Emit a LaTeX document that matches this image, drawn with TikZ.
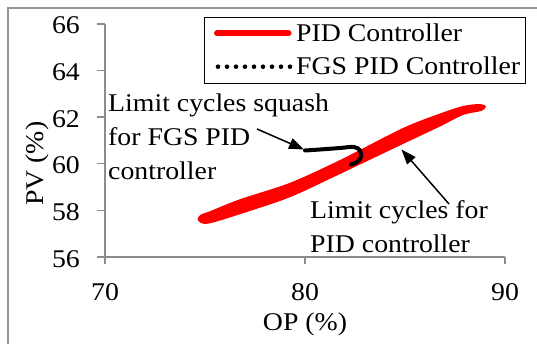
\documentclass[tikz,border=0pt]{standalone}
\usepackage{fontspec}
\setmainfont{Liberation Serif}[FakeStretch=1.09]
\usetikzlibrary{arrows.meta}
\begin{document}
\begin{tikzpicture}[x=1pt,y=-1pt,
  txt/.style={font=\fontsize{25.5}{33}\selectfont, inner sep=0pt, text=black},
  axisline/.style={draw=black!45, line width=1.4pt},
  frameline/.style={draw=black!42, line width=2pt},
  pidline/.style={draw=red, line cap=round, line join=round},
  fgsline/.style={draw=black, line cap=round, line join=round},
  pointer/.style={draw=black, line width=1.5pt, -{Triangle[length=15pt,width=11pt]}}]
\useasboundingbox (0,0) rectangle (537,344);
% outer frame
\draw[frameline] (8,344) -- (8,8) -- (537,8);
% axes
\coordinate (o) at (105,257);
\coordinate (ytop) at (105,24);
\coordinate (xend) at (505,257);
\draw[axisline] (ytop) -- (o) -- (xend);
% y ticks and labels
\foreach \v/\y in {66/24,64/70.6,62/117.2,60/163.8,58/210.4,56/257}{
  \draw[axisline] (97,\y) -- (105,\y);
  \node[txt, anchor=base east] (yl\v) at (80,\y+10) {\v};
}
% x ticks and labels
\foreach \v/\x in {70/105,80/305,90/505}{
  \draw[axisline] (\x,257) -- (\x,264);
  \node[txt, anchor=base] (xl\v) at (\x,300) {\v};
}
\node[txt, anchor=base] (xlabel) at (305,330) {OP (\%)};
\node[txt, anchor=base, rotate=90] (ylabel) at (43,163.8) {PV (\%)};
% PID limit cycle (filled band)
\fill[red] plot[smooth cycle, tension=0.5] coordinates
  {(197.5,219) (201,214.5) (210,211.2) (240,199.2) (290,182.8) (340,160) (403,128)
   (440,113.5) (463,106) (480,104) (486,106.5) (481,111) (463,115) (440,126.5)
   (403,144) (340,174) (290,197.2) (240,214.2) (210,223.3) (201,223)};
% FGS PID limit cycle
\coordinate (f0) at (305,150.5);
\draw[fgsline, line width=4pt] plot[smooth, tension=0.6] coordinates
  {(f0) (320,149.5) (340,148) (354,147) (360,150.5) (361,157) (357,162) (351,164.5)};
% legend
\node[draw=black, line width=1pt, minimum width=321pt, minimum height=66pt,
  inner sep=0pt, anchor=north west] (legend) at (204,17.3) {};
\coordinate (l1a) at (217,33.3);
\coordinate (l1b) at (288.5,33.3);
\coordinate (l2a) at (218,66.7);
\coordinate (l2b) at (290,66.7);
\draw[pidline, line width=6pt] (l1a) -- (l1b);
\draw[fgsline, line width=4.6pt, dash pattern=on 0pt off 9pt] (l2a) -- (l2b);
\node[txt, anchor=base west] (leg1) at (296,41.7) {PID Controller};
\node[txt, anchor=base west] (leg2) at (296,75) {FGS PID Controller};
% annotations
\node[txt, anchor=base west] (sq1) at (108,112) {Limit cycles squash};
\node[txt, anchor=base west] (sq2) at (108,146) {for FGS PID};
\node[txt, anchor=base west] (sq3) at (108,179.5) {controller};
\node[txt, anchor=base west] (lc1) at (310,218.7) {Limit cycles for};
\node[txt, anchor=base west] (lc2) at (310,252) {PID controller};
\coordinate (a1s) at (257,129);
\coordinate (a1e) at (304,149.5);
\coordinate (a2s) at (449,204);
\coordinate (a2e) at (401.5,149.5);
\draw[pointer] (a1s) -- (a1e);
\draw[pointer] (a2s) -- (a2e);
\end{tikzpicture}
\end{document}
